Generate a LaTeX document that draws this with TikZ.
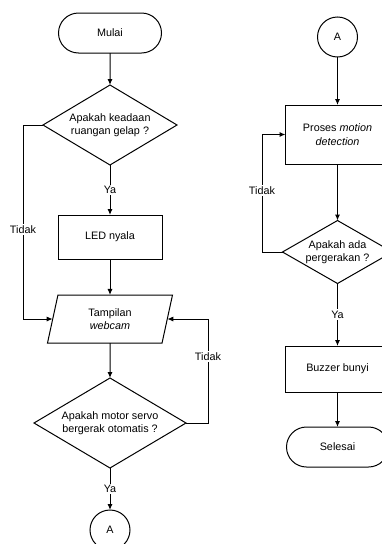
\documentclass[tikz,border=0pt]{standalone}
\usepackage{fontspec}
\setmainfont{Liberation Sans}
\usetikzlibrary{shapes.geometric,shapes.misc,arrows.meta}
\begin{document}
\begin{tikzpicture}[x=1pt,y=-1pt, line width=1pt,
  font=\fontsize{10.8}{13.5}\selectfont,
  every node/.style={inner sep=0pt, outer sep=0pt},
  term/.style={draw, rounded rectangle, minimum width=103, minimum height=40},
  proc/.style={draw, rectangle, minimum width=104, align=center},
  dec/.style={draw, diamond, align=center},
  io/.style={draw, trapezium, trapezium left angle=64, trapezium right angle=116,
    trapezium stretches body, minimum width=125, minimum height=48, align=center},
  conn/.style={draw, circle, minimum size=40},
  lbl/.style={fill=white, inner sep=1.5pt},
  arr/.style={-{Latex[length=6pt,width=5pt]}},
]
\clip (0,0) rectangle (382,544);
% left column
\node[term] (start) at (110,33) {Mulai};
\node[dec, aspect=1.675, minimum width=134, minimum height=80] (d1) at (110,125) {Apakah keadaan\\ruangan gelap ?};
\node[proc, minimum height=44] (led) at (110,237) {LED nyala};
\node[io] (cam) at (110,319) {Tampilan\\\textit{webcam}};
\node[dec, aspect=1.69, minimum width=152, minimum height=90] (d2) at (110,423) {Apakah motor servo\\bergerak otomatis ?};
\node[conn] (a1) at (110,530) {A};
\coordinate (tl) at (23,125);
\coordinate (tr) at (208,423);
\draw[arr] (start) -- (d1);
\draw[arr] (d1) -- node[lbl]{Ya} (led);
\draw[arr] (led) -- (cam);
\draw[arr] (d1.west) -- (tl) |- node[lbl,pos=0.27]{Tidak} (cam.west);
\draw[arr] (cam) -- (d2);
\draw[arr] (d2.east) -- (tr) |- node[lbl,pos=0.32]{Tidak} (cam.east);
\draw[arr] (d2) -- node[lbl]{Ya} (a1);
% right column
\node[conn] (a2) at (337.5,37) {A};
\node[proc, minimum height=59] (mot) at (337.5,134.5) {Proses \textit{motion}\\\textit{detection}};
\node[dec, aspect=1.75, minimum width=110, minimum height=63] (d3) at (337.5,252) {Apakah ada\\pergerakan ?};
\node[proc, minimum height=46] (buz) at (337.5,369) {Buzzer bunyi};
\node[term, minimum width=102] (end) at (337.5,447) {Selesai};
\coordinate (tl2) at (262,252);
\draw[arr] (a2) -- (mot);
\draw[arr] (mot) -- (d3);
\draw[arr] (d3.west) -- (tl2) |- node[lbl,pos=0.26]{Tidak} (mot.west);
\draw[arr] (d3) -- node[lbl]{Ya} (buz);
\draw[arr] (buz) -- (end);
\end{tikzpicture}
\end{document}
